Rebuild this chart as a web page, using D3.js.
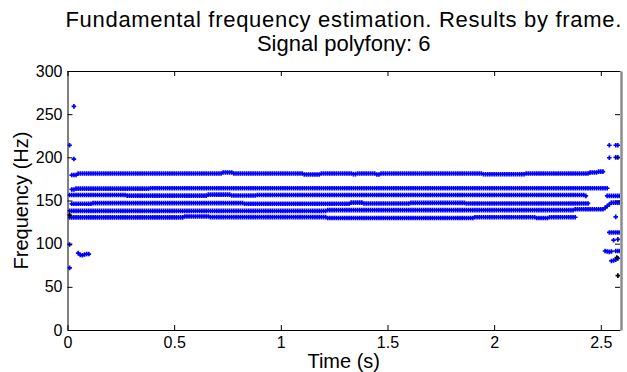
<!DOCTYPE html>
<meta charset="utf-8">
<style>
  body { margin: 0; background: #fff; }
  svg { display: block; font-family: "Liberation Sans", Arial, sans-serif; }
  .tick line { stroke: #000; }
  .tick text { font-size: 16px; fill: #000; }
  .title { font-size: 22px; }
  .label { font-size: 20px; }
</style>
<body>
</body>
<script src="https://cdn.jsdelivr.net/npm/d3@7"></script>
<script>
  // frame hop in seconds; tracks are runs of [startTime, endTime, hz]
  const hop = 0.01;
  const track1 = [[0.02, 0.04, 179.5], [0.05, 0.72, 181.3], [0.73, 0.77, 182.5], [0.78, 1.10, 181.3],
                  [1.11, 1.18, 180.2], [1.19, 1.33, 181.3], [1.34, 1.35, 180.5], [1.36, 1.44, 181.3],
                  [1.45, 1.46, 180.2], [1.47, 1.94, 181.3], [1.95, 2.14, 180.4], [2.15, 2.44, 181.2],
                  [2.45, 2.48, 182.5], [2.49, 2.51, 183.5]];
  const track2 = [[0.02, 0.03, 162.8], [0.04, 0.38, 163.8], [0.39, 2.53, 164.2]];
  const track3 = [[0.01, 0.27, 156.3], [0.28, 0.65, 155.7], [0.66, 0.76, 156.8], [0.77, 0.88, 155.8],
                  [0.89, 2.42, 156.3], [2.43, 2.43, 155.3], [2.53, 2.59, 155.3]];
  const track4 = [[0.02, 0.11, 146.2], [0.12, 0.82, 147.0], [0.83, 1.32, 146.3], [1.33, 1.38, 147.5],
                  [1.39, 1.60, 146.5], [1.61, 1.86, 147.2], [1.87, 2.44, 146.6]];
  const track5 = [[0.01, 1.21, 138.0], [1.22, 2.37, 138.8], [2.38, 2.51, 139.8], [2.52, 2.52, 141.5],
                  [2.53, 2.53, 143.5], [2.54, 2.54, 145.5], [2.55, 2.59, 147.5]];
  const track6 = [[0.01, 0.54, 130.5], [0.55, 0.66, 131.5], [0.67, 1.21, 130.8], [1.22, 1.90, 129.8],
                  [1.91, 2.19, 130.6], [2.20, 2.25, 129.8], [2.26, 2.38, 130.6], [2.54, 2.59, 113]];
  // stray estimates at the signal edges [time, hz]
  const strays = [[0.03, 259], [0.01, 214], [0.03, 198], [0.01, 99], [0.01, 72],
                  [0.05, 89], [0.06, 87], [0.07, 86.5], [0.08, 87.5], [0.09, 88], [0.10, 88],
                  [2.54, 214], [2.57, 214], [2.58, 214], [2.54, 199.5], [2.57, 200], [2.58, 200],
                  [2.57, 131], [2.56, 104], [2.58, 105],
                  [2.52, 91.5], [2.53, 91], [2.54, 90.5], [2.55, 91], [2.57, 91.5], [2.58, 91.5], [2.59, 91.5],
                  [2.55, 80], [2.56, 80.5], [2.57, 81.5], [2.58, 83]];
  const blackPts = [[0.01, 133], [2.575, 84], [2.58, 63]];

  const xTicks = [0, 0.5, 1, 1.5, 2, 2.5];
  const yTicks = [0, 50, 100, 150, 200, 250, 300];
  const titleLines = ['Fundamental frequency estimation. Results by frame.', 'Signal polyfony: 6'];
  const xLabel = 'Time (s)';
  const yLabel = 'Frequency (Hz)';

  const w = 627, h = 372;
  const pl = 67.5, pr = 620, pt = 71, pb = 330;

  const x = d3.scaleLinear().domain([0, 2.59]).range([pl, pr]);
  const y = d3.scaleLinear().domain([0, 300]).range([pb, pt]);

  const svg = d3.select('body').append('svg')
    .attr('width', w)
    .attr('height', h);

  svg.append('defs').append('clipPath').attr('id', 'plot')
    .append('rect').attr('x', pl).attr('y', pt).attr('width', pr - pl).attr('height', pb - pt);

  // expand runs into one point per frame
  const frames = run => {
    const n = Math.round((run[1] - run[0]) / hop);
    return Array.from({length: n + 1}, (_, i) => [run[0] + i * hop, run[2]]);
  };
  const bluePts = [track1, track2, track3, track4, track5, track6]
    .flatMap(tr => tr.flatMap(frames))
    .concat(strays);

  const plus = 'M-2.3,0H2.3M0,-2.3V2.3';
  const marks = svg.append('g').attr('clip-path', 'url(#plot)');
  marks.selectAll('path.blue')
    .data(bluePts)
    .join('path')
    .attr('class', 'blue')
    .attr('d', plus)
    .attr('transform', d => `translate(${x(d[0])},${y(d[1])})`)
    .attr('stroke', '#0000ff')
    .attr('stroke-width', 1.7);
  marks.selectAll('path.black')
    .data(blackPts)
    .join('path')
    .attr('class', 'black')
    .attr('d', plus)
    .attr('transform', d => `translate(${x(d[0])},${y(d[1])})`)
    .attr('stroke', '#000')
    .attr('stroke-width', 1.7);

  // axes, ticks pointing inward on all four sides
  const axBottom = svg.append('g').attr('transform', `translate(0,${pb})`)
    .call(d3.axisBottom(x).tickValues(xTicks).tickSize(-5).tickSizeOuter(0).tickPadding(7)
      .tickFormat(d3.format('')));
  const axLeft = svg.append('g').attr('transform', `translate(${pl},0)`)
    .call(d3.axisLeft(y).tickValues(yTicks).tickSize(-5).tickSizeOuter(0).tickPadding(5));
  const axTop = svg.append('g').attr('transform', `translate(0,${pt})`)
    .call(d3.axisTop(x).tickValues(xTicks).tickSize(-5).tickSizeOuter(0).tickFormat(''));
  const axRight = svg.append('g').attr('transform', `translate(${pr},0)`)
    .call(d3.axisRight(y).tickValues(yTicks).tickSize(-5).tickSizeOuter(0).tickFormat(''));
  [axBottom, axLeft, axTop, axRight].forEach(a => {
    a.attr('font-family', null).attr('font-size', null);
    a.select('.domain').attr('stroke', '#000');
  });
  axRight.select('.domain').attr('stroke', '#8c8c8c').attr('stroke-width', 2.5)
    .attr('transform', 'translate(1,0)');

  svg.append('text').attr('class', 'title')
    .attr('text-anchor', 'middle')
    .selectAll('tspan')
    .data(titleLines)
    .join('tspan')
    .attr('x', (pl + pr) / 2)
    .attr('y', (d, i) => 27 + i * 23.5)
    .attr('letter-spacing', (d, i) => i === 0 ? '0.7px' : null)
    .text(d => d);

  svg.append('text').attr('class', 'label')
    .attr('text-anchor', 'middle')
    .attr('x', (pl + pr) / 2)
    .attr('y', 368)
    .text(xLabel);

  svg.append('text').attr('class', 'label')
    .attr('text-anchor', 'middle')
    .attr('transform', `translate(28,${(pt + pb) / 2}) rotate(-90)`)
    .text(yLabel);
</script>
